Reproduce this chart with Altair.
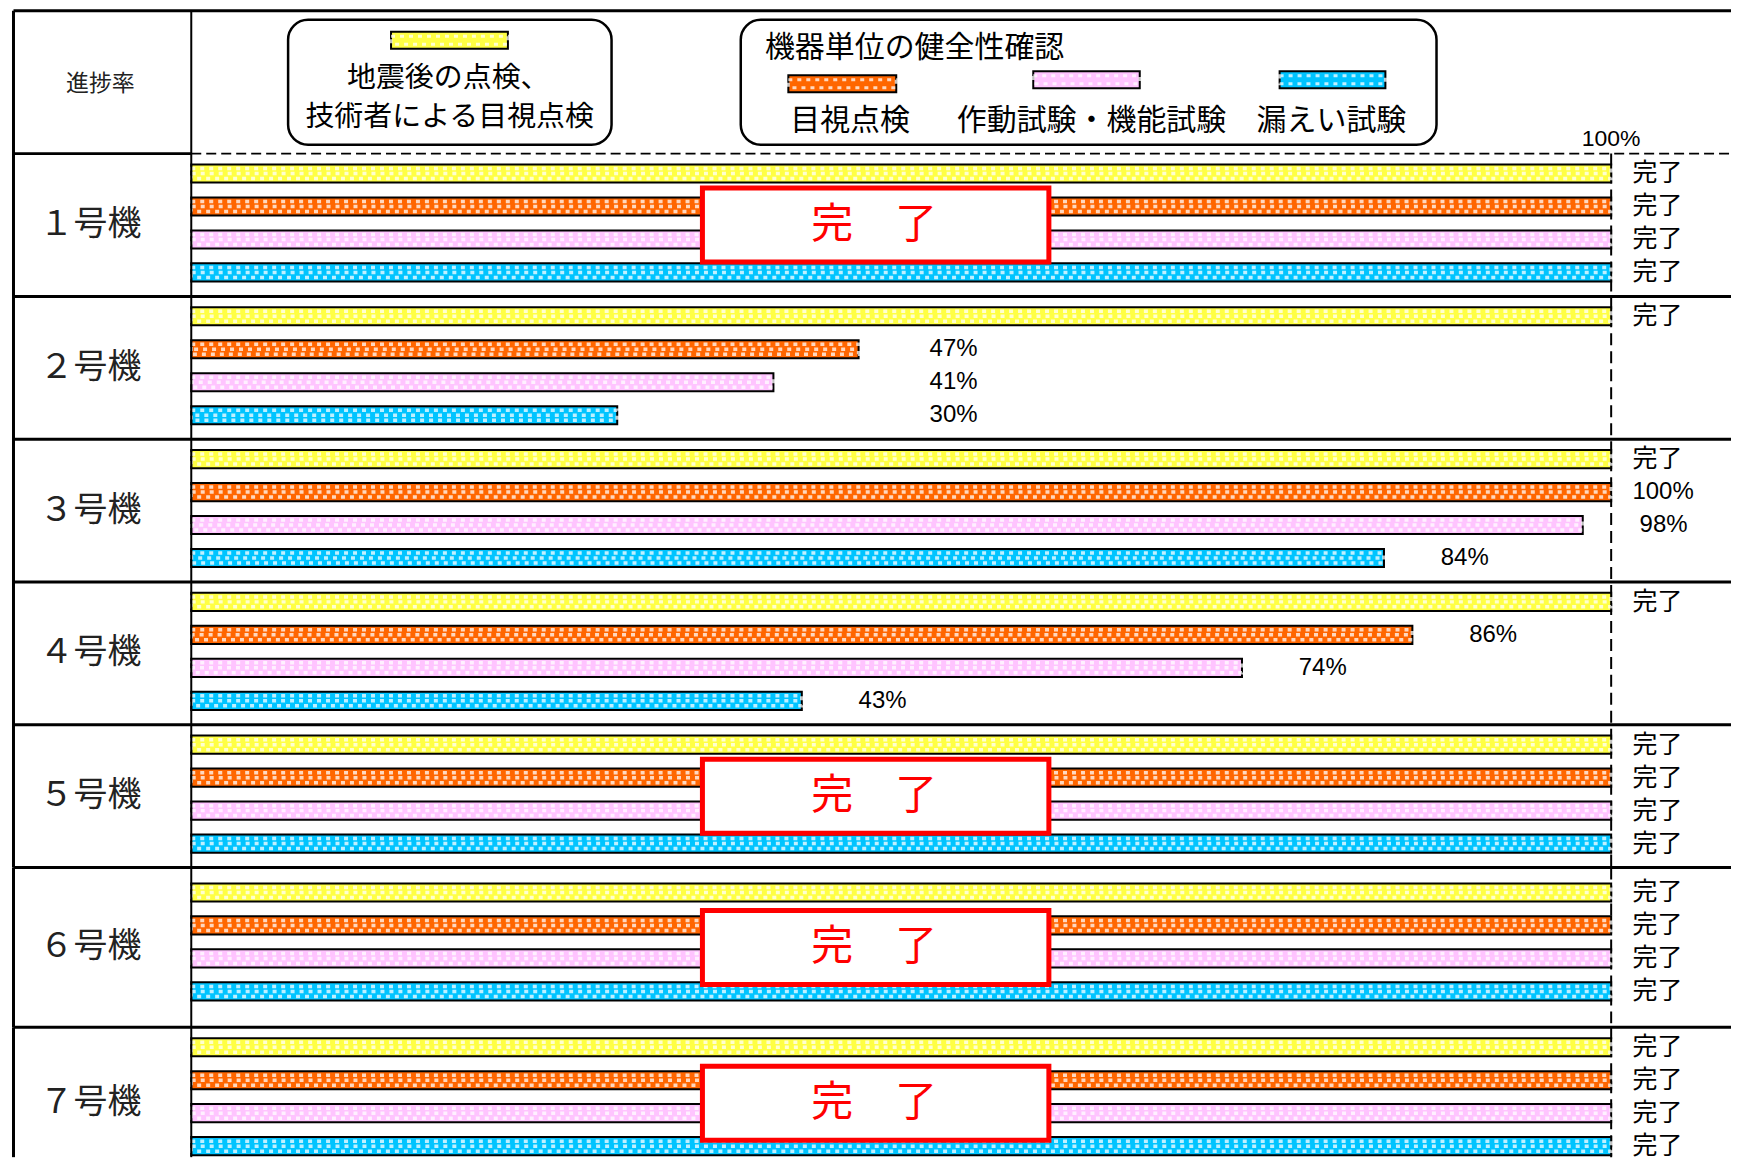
import altair as alt
import pandas as pd

# ---------------- data ----------------
header_row = "進捗率"
units = ["１号機", "２号機", "３号機", "４号機", "５号機", "６号機", "７号機"]
series = ["地震後の点検、技術者による目視点検", "目視点検", "作動試験・機能試験", "漏えい試験"]
colors = ["#FFFF44", "#FF6600", "#FFC4FF", "#00C4FF"]

# progress (%) per unit, in series order
progress = {
    "１号機": [100, 100, 100, 100],
    "２号機": [100, 47, 41, 30],
    "３号機": [100, 100, 98, 84],
    "４号機": [100, 86, 74, 43],
    "５号機": [100, 100, 100, 100],
    "６号機": [100, 100, 100, 100],
    "７号機": [100, 100, 100, 100],
}
labels = {
    "１号機": ["完了", "完了", "完了", "完了"],
    "２号機": ["完了", "47%", "41%", "30%"],
    "３号機": ["完了", "100%", "98%", "84%"],
    "４号機": ["完了", "86%", "74%", "43%"],
    "５号機": ["完了", "完了", "完了", "完了"],
    "６号機": ["完了", "完了", "完了", "完了"],
    "７号機": ["完了", "完了", "完了", "完了"],
}
legend_group_title = "機器単位の健全性確認"
legend_first_lines = ["地震後の点検、", "技術者による目視点検"]
done_text = "完　了"
full_label = "100%"

# ---------------- layout ----------------
W = 1720
X_MIN, X_MAX = -12.52, 108.44
column_units = {"２号機"}   # labels of partial bars aligned in one column
JP = "Noto Sans CJK JP"
NUM = "Liberation Sans, Arial, sans-serif"

xs = alt.Scale(domain=[X_MIN, X_MAX], nice=False, zero=False)
fills = alt.Scale(domain=series, range=colors)


def X(f):
    return alt.X(f, scale=xs, axis=None)


recs = []
for u in units:
    vals = progress[u]
    labs = labels[u]
    partial_max = max([v for v, l in zip(vals, labs) if l != "完了" and v < 100] or [0])
    for s, v, l in zip(series, vals, labs):
        if l == "完了" or v >= 100:
            lx = 101.5
        elif u in column_units:
            lx = partial_max + 5
        else:
            lx = v + 4
        recs.append({"unit": u, "series": s, "value": v, "label": l, "lx": lx, "zero": 0})
df_all = pd.DataFrame(recs)
done_units = [u for u in units if all(l == "完了" for l in labels[u])]


def panel(row_list, height, y_range=None, yo_range=None):
    ykw = dict(domain=row_list, paddingInner=0, paddingOuter=0)
    if y_range:
        ykw["range"] = y_range
    ys = alt.Scale(**ykw)
    yokw = dict(domain=series, paddingInner=0.45, paddingOuter=0.39, align=0.42)
    if yo_range:
        yokw["range"] = yo_range
    yos = alt.Scale(**yokw)

    def Y(f, **kw):
        return alt.Y(f, scale=ys, axis=None, **kw)

    layers = []
    prow = [r for r in row_list if r in units]
    df = df_all[df_all["unit"].isin(prow)]
    base = alt.Chart(df)
    enc = dict(x=X("value:Q"), x2=alt.X2("zero:Q"), y=Y("unit:N"),
               yOffset=alt.YOffset("series:N", scale=yos))

    # 100% dashed guide
    first = row_list[1] if row_list[0] == header_row else row_list[0]
    layers.append(alt.Chart(pd.DataFrame({"row": [first], "x": [100]})).mark_rule(
        color="black", strokeWidth=2, strokeDash=[12, 6]).encode(
        x=X("x:Q"), y=Y("row:N", bandPosition=0), y2=alt.value(height)))

    layers.append(base.mark_bar(stroke="black", strokeWidth=2).encode(
        fill=alt.Fill("series:N", scale=fills, legend=None), **enc))
    layers.append(base.mark_bar(size=10, fillOpacity=0, stroke="white", strokeWidth=3.5,
                                strokeDash=[4, 5], opacity=0.75).encode(**enc))
    layers.append(base.mark_rule(stroke="white", strokeWidth=3.5, strokeDash=[4, 5],
                                 strokeDashOffset=4.5, opacity=0.75).encode(**enc))

    # completed-unit red boxes
    bu = [u for u in prow if u in done_units]
    if bu:
        bdf = pd.DataFrame({"unit": bu, "x0": 36.0, "x1": 60.4, "xc": 48.1, "t": done_text})
        layers.append(alt.Chart(bdf).mark_bar(size=74, fill="white", stroke="#FF0000",
                                              strokeWidth=5).encode(
            x=X("x0:Q"), x2=alt.X2("x1:Q"), y=Y("unit:N")))
        layers.append(alt.Chart(bdf).mark_text(font=JP, fontSize=42, color="#FF0000").encode(
            x=X("xc:Q"), y=Y("unit:N"), text="t:N"))

    lab_enc = dict(x=X("lx:Q"), y=Y("unit:N"), yOffset=alt.YOffset("series:N", scale=yos),
                   text="label:N")
    if (df["label"] == "完了").any():
        layers.append(base.transform_filter("datum.label == '完了'").mark_text(
            align="left", baseline="middle", color="black", font=JP, fontSize=25).encode(**lab_enc))
    if (df["label"] != "完了").any():
        layers.append(base.transform_filter("datum.label != '完了'").mark_text(
            align="left", baseline="middle", color="black", font=NUM, fontSize=24).encode(**lab_enc))

    # horizontal grid lines at the top of every row
    hrow, hx0, hx1 = [], [], []
    for r in row_list:
        hrow.append(r)
        hx0.append(X_MIN)
        hx1.append(0 if r == units[0] else X_MAX)
    layers.append(alt.Chart(pd.DataFrame({"row": hrow, "x0": hx0, "x1": hx1})).mark_rule(
        color="black", strokeWidth=3).encode(
        x=X("x0:Q"), x2=alt.X2("x1:Q"), y=Y("row:N", bandPosition=0)))
    if units[0] in row_list:
        layers.append(alt.Chart(pd.DataFrame({"row": [units[0]], "x0": [0], "x1": [X_MAX]})).mark_rule(
            color="black", strokeWidth=2, strokeDash=[10, 5]).encode(
            x=X("x0:Q"), x2=alt.X2("x1:Q"), y=Y("row:N", bandPosition=0)))
    # vertical borders
    layers.append(alt.Chart(pd.DataFrame({"x": [X_MIN, 0], "w": [3, 2]})).mark_rule(
        color="black").encode(x=X("x:Q"), strokeWidth=alt.StrokeWidth("w:Q", scale=None)))

    # row titles
    layers.append(alt.Chart(pd.DataFrame({"row": prow, "x": -7.1})).mark_text(
        font=JP, fontSize=34, color="#222").encode(x=X("x:Q"), y=Y("row:N"), text="row:N"))

    if header_row in row_list:
        layers.append(alt.Chart(pd.DataFrame({"row": [header_row], "x": [-6.4]})).mark_text(
            font=JP, fontSize=23, color="#222", dy=1.5).encode(x=X("x:Q"), y=Y("row:N"), text="row:N"))
        hb = pd.DataFrame({"row": [header_row] * 2, "x0": [6.82, 38.7], "x1": [29.6, 87.7]})
        layers.append(alt.Chart(hb).mark_bar(size=125, cornerRadius=20, fill="white", stroke="black",
                                             strokeWidth=2.5).encode(
            x=X("x0:Q"), x2=alt.X2("x1:Q"), y=Y("row:N")))
        sw_x0 = [14.07, 42.05, 59.3, 76.65]
        sw_x1 = [22.3, 49.65, 66.8, 84.1]
        sw_dy = [-42, 1.5, -2.5, -2.5]
        for s, a, b, d in zip(series, sw_x0, sw_x1, sw_dy):
            sdf = pd.DataFrame({"row": [header_row], "series": [s], "x0": [a], "x1": [b]})
            c = alt.Chart(sdf)
            e = dict(x=X("x0:Q"), x2=alt.X2("x1:Q"), y=Y("row:N"))
            layers.append(c.mark_bar(size=17, yOffset=d, stroke="black", strokeWidth=2).encode(
                fill=alt.Fill("series:N", scale=fills, legend=None), **e))
            layers.append(c.mark_bar(size=8, yOffset=d, fillOpacity=0, stroke="white", strokeWidth=3,
                                     strokeDash=[4, 5], opacity=0.75).encode(**e))
        texts = [
            (legend_first_lines[0], 18.1, -4, "center", 29, JP),
            (legend_first_lines[1], 18.2, 35, "center", 29, JP),
            (legend_group_title, 40.4, -34, "left", 30, JP),
            (series[1], 46.4, 38.5, "center", 30, JP),
            (series[2], 63.4, 38.5, "center", 30, JP),
            (series[3], 80.3, 38.5, "center", 30, JP),
            (full_label, 100, 57, "center", 23, NUM),
        ]
        for t, x, d, al, fs, f in texts:
            layers.append(
                alt.Chart(pd.DataFrame({"row": [header_row], "x": [x], "t": [t]})).mark_text(
                    font=f, fontSize=fs, dy=d, align=al, color="black").encode(
                    x=X("x:Q"), y=Y("row:N"), text="t:N"))

    return alt.layer(*layers).properties(width=W, height=height)


top = panel([header_row] + units[:5], 858)
mid = panel([units[5]], 160, yo_range=[5, 148])
bot = panel([units[6]], 130, y_range=[0, 152], yo_range=[0, 143])

chart = alt.vconcat(top, mid, bot, spacing=0, bounds="flush").resolve_scale(
    yOffset="independent"
).properties(
    padding={"left": 3.5, "top": 0, "right": 0, "bottom": 0},
).configure_view(stroke=None)

chart.save("out.html", embed_options={"renderer": "svg", "actions": False})
